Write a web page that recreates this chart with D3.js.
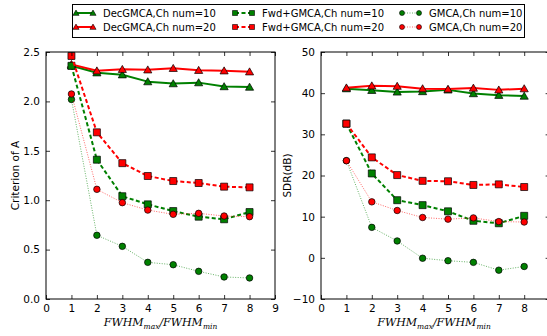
<!DOCTYPE html>
<html><head><meta charset="utf-8">
<script src="https://cdn.jsdelivr.net/npm/d3@7"></script>
<style>body{margin:0;background:#fff}svg{display:block}</style>
</head><body>
<svg id="c" width="547" height="336"></svg>
<script>
const xs = [1,2,3,4,5,6,7,8];
const critDec10 = [2.36,2.29,2.27,2.20,2.18,2.19,2.15,2.145];
const critDec20 = [2.375,2.31,2.325,2.32,2.335,2.315,2.31,2.30];
const critFwd10 = [2.36,1.41,1.04,0.958,0.89,0.833,0.807,0.88];
const critFwd20 = [2.46,1.687,1.375,1.245,1.194,1.174,1.137,1.13];
const critGm10 = [2.02,0.645,0.533,0.371,0.347,0.28,0.223,0.213];
const critGm20 = [2.075,1.11,0.975,0.90,0.857,0.867,0.84,0.833];
const sdrDec10 = [41.1,40.7,40.3,40.4,40.8,39.9,39.5,39.3];
const sdrDec20 = [41.3,41.8,41.7,41.1,41.0,41.25,40.8,41.1];
const sdrFwd10 = [32.6,20.5,14.0,12.8,11.3,9.0,8.4,10.2];
const sdrFwd20 = [32.6,24.4,20.1,18.7,18.6,17.7,17.85,17.2];
const sdrGm10 = [23.6,7.4,4.1,-0.1,-0.7,-1.1,-3.0,-2.1];
const sdrGm20 = [23.6,13.6,11.5,9.8,9.4,9.7,8.8,8.7];
const seriesNames = ["DecGMCA,Ch num=10","DecGMCA,Ch num=20","Fwd+GMCA,Ch num=10","Fwd+GMCA,Ch num=20","GMCA,Ch num=10","GMCA,Ch num=20"];
const xTicksLeft = [0,1,2,3,4,5,6,7,8,9];
const xTicksRight = [0,1,2,3,4,5,6,7,8];
const critTicks = [0,0.5,1.0,1.5,2.0,2.5];
const sdrTicks = [-10,0,10,20,30,40,50];

const G = "#008000", R = "#ff0000";
const styles = [
  {color:G, marker:"tri", dash:null, width:2, op:1},
  {color:R, marker:"tri", dash:null, width:2, op:1},
  {color:G, marker:"sq", dash:"4,2.5", width:2, op:1},
  {color:R, marker:"sq", dash:"4,2.5", width:2, op:1},
  {color:G, marker:"circ", dash:"1,1.5", width:1, op:0.6},
  {color:R, marker:"circ", dash:"1,1.5", width:1, op:0.6}
];

const svg = d3.select("#c");
const FONT = "DejaVu Sans";

function markerPath(type, size){
  if(type==="tri") return d3.symbol(d3.symbolTriangle, size*size*0.45)();
  if(type==="sq") return d3.symbol(d3.symbolSquare, size*size)();
  return d3.symbol(d3.symbolCircle, Math.PI*(size/2)*(size/2))();
}

function panel(opts){
  const {x0,x1,y0,y1,ydom,yticks,yfmt,xticks,data,ylabel,ylabelX} = opts;
  const g = svg.append("g");
  const x = d3.scaleLinear().domain([0,9]).range([x0,x1]);
  const y = d3.scaleLinear().domain(ydom).range([y1,y0]);
  data.forEach((vals,i)=>{
    const s = styles[i];
    const line = d3.line().x((d,j)=>x(xs[j])).y(d=>y(d));
    g.append("path").attr("d", line(vals)).attr("fill","none")
      .attr("stroke", s.color).attr("stroke-width", s.width)
      .attr("stroke-opacity", s.op)
      .attr("stroke-dasharray", s.dash).attr("stroke-linejoin","round");
    g.selectAll(null).data(vals).enter().append("path")
      .attr("d", markerPath(s.marker, s.marker==="tri"?8:(s.marker==="sq"?7:6.5)))
      .attr("transform",(d,j)=>`translate(${x(xs[j])},${y(d)+(s.marker==="tri"?0.8:0)})`)
      .attr("fill", s.color).attr("stroke","#000").attr("stroke-width",0.7);
  });
  const ax = g.append("g").attr("transform",`translate(0,${y1})`)
    .call(d3.axisBottom(x).tickValues(xticks).tickSize(-4).tickPadding(6).tickFormat(d3.format("d")));
  const axT = g.append("g").attr("transform",`translate(0,${y0})`)
    .call(d3.axisTop(x).tickValues(xticks).tickSize(-4).tickFormat(""));
  const ay = g.append("g").attr("transform",`translate(${x0},0)`)
    .call(d3.axisLeft(y).tickValues(yticks).tickSize(-4).tickPadding(6).tickFormat(yfmt));
  const ayR = g.append("g").attr("transform",`translate(${x1},0)`)
    .call(d3.axisRight(y).tickValues(yticks).tickSize(-4).tickFormat(""));
  [ax,axT,ay,ayR].forEach(a=>{
    a.select(".domain").remove();
    a.selectAll("line").attr("stroke","#000").attr("stroke-width",0.8);
    a.selectAll("text").attr("font-family",FONT).attr("font-size",10.5).attr("fill","#000");
  });
  g.append("rect").attr("x",x0).attr("y",y0).attr("width",x1-x0).attr("height",y1-y0)
    .attr("fill","none").attr("stroke","#000").attr("stroke-width",1);
  g.append("text").attr("transform",`translate(${ylabelX},${(y0+y1)/2}) rotate(-90)`)
    .attr("text-anchor","middle").attr("font-family",FONT).attr("font-size",10.5).text(ylabel);
  const xl = g.append("text").attr("x",(x0+Math.min(x1,547))/2).attr("y",326)
    .attr("text-anchor","middle").attr("font-family","DejaVu Serif").attr("font-style","italic").attr("font-size",11);
  xl.append("tspan").text("FWHM");
  xl.append("tspan").attr("font-size",7.5).attr("dy",2.5).text("max");
  xl.append("tspan").attr("dy",-2.5).text("/FWHM");
  xl.append("tspan").attr("font-size",7.5).attr("dy",2.5).text("min");
}

panel({x0:46,x1:275,y0:52,y1:299,ydom:[0,2.5],yticks:critTicks,yfmt:d3.format(".1f"),xticks:xTicksLeft,
  data:[critDec10,critDec20,critFwd10,critFwd20,critGm10,critGm20],ylabel:"Criterion of A",ylabelX:19});
panel({x0:321,x1:549.6,y0:52,y1:299,ydom:[-10,50],yticks:sdrTicks,yfmt:d=>d<0?"\u2212"+Math.abs(d):d,xticks:xTicksRight,
  data:[sdrDec10,sdrDec20,sdrFwd10,sdrFwd20,sdrGm10,sdrGm20],ylabel:"SDR(dB)",ylabelX:291});

const lg = svg.append("g");
lg.append("rect").attr("x",72.5).attr("y",4.5).attr("width",452).attr("height",33)
  .attr("fill","#fff").attr("stroke","#000").attr("stroke-width",1);
const colX = [76, 235, 402];
const rowY = [13, 27];
seriesNames.forEach((name,i)=>{
  const s = styles[i];
  const cx = colX[Math.floor(i/2)], cy = rowY[i%2];
  lg.append("line").attr("x1",cx).attr("x2",cx+17).attr("y1",cy).attr("y2",cy)
    .attr("stroke",s.color).attr("stroke-width",s.width).attr("stroke-opacity",s.op)
    .attr("stroke-dasharray",s.dash);
  [cx,cx+17].forEach(px=>{
    lg.append("path").attr("d",markerPath(s.marker, s.marker==="tri"?6:5))
      .attr("transform",`translate(${px},${cy+(s.marker==="tri"?0.6:0)})`)
      .attr("fill",s.color).attr("stroke","#000").attr("stroke-width",0.6);
  });
  lg.append("text").attr("x",cx+27).attr("y",cy+3.6).attr("font-family",FONT).attr("font-size",10)
    .text(name);
});
</script>
</body></html>
